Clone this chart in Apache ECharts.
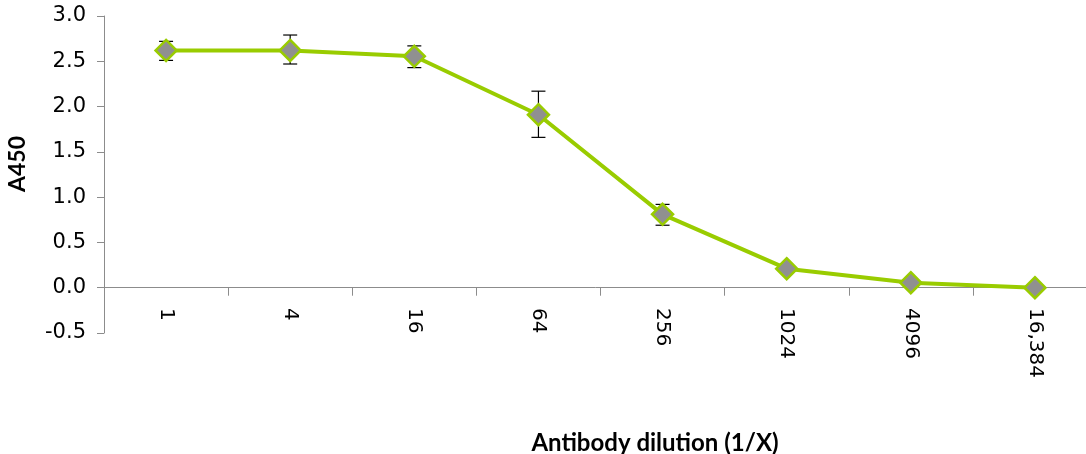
<!DOCTYPE html>
<html lang="en">
<head>
    <meta charset="UTF-8">
    <title>A450 dilution</title>
    <style>
        html, body { margin: 0; padding: 0; background: #fff; }
        #main { width: 1086px; height: 454px; }
    </style>
</head>
<body>
    <div id="main"></div>
    <script src="https://cdn.jsdelivr.net/npm/echarts@6/dist/echarts.min.js"></script>
    <script>
        // dilution (1/X)
        const dilutions = ['1', '4', '16', '64', '256', '1024', '4096', '16,384'];
        // mean A450
        const a450 = [2.62, 2.62, 2.555, 1.91, 0.81, 0.21, 0.055, 0.0];
        // error bar low / high
        const errLow = [2.51, 2.47, 2.43, 1.66, 0.69, 0.21, 0.055, 0.0];
        const errHigh = [2.72, 2.79, 2.67, 2.17, 0.92, 0.21, 0.055, 0.0];
        const yTicks = { min: -0.5, max: 3.0, step: 0.5 };

        const chart = echarts.init(document.getElementById('main'));

        const errData = dilutions.map((d, i) => [i, errLow[i], errHigh[i]]);
        const titleFont = { fontWeight: 'bold', fontFamily: 'Lato', fill: '#000' };

        const option = {
            animation: false,
            grid: { left: 104, top: 16, bottom: 121, right: -11, containLabel: false, outerBoundsMode: 'none' },
            graphic: [
                {
                    type: 'text',
                    x: 655, y: 443,
                    style: Object.assign({ text: 'Antibody dilution (1/X)', fontSize: 24, align: 'center', verticalAlign: 'middle' }, titleFont)
                },
                {
                    type: 'text',
                    x: 18, y: 164,
                    rotation: Math.PI / 2,
                    style: Object.assign({ text: 'A450', fontSize: 23, align: 'center', verticalAlign: 'middle' }, titleFont)
                }
            ],
            xAxis: {
                type: 'category',
                data: dilutions,
                boundaryGap: true,
                axisLine: { onZero: true, lineStyle: { color: '#8c8c8c', width: 1 } },
                axisTick: { show: true, length: 8, lineStyle: { color: '#8c8c8c' } },
                axisLabel: {
                    rotate: -90,
                    margin: -25,
                    color: '#000',
                    fontSize: 20,
                    fontFamily: 'DejaVu Sans'
                }
            },
            yAxis: {
                type: 'value',
                min: yTicks.min,
                max: yTicks.max,
                interval: yTicks.step,
                splitLine: { show: false },
                axisLine: { show: true, lineStyle: { color: '#8c8c8c' } },
                axisTick: { show: true, length: 7, lineStyle: { color: '#8c8c8c' } },
                axisLabel: {
                    color: '#000',
                    fontSize: 21,
                    margin: 18,
                    fontFamily: 'DejaVu Sans',
                    formatter: v => v.toFixed(1)
                }
            },
            series: [
                {
                    type: 'line',
                    data: a450,
                    symbol: 'diamond',
                    symbolSize: 21,
                    z: 3,
                    lineStyle: { color: '#99cc00', width: 4 },
                    itemStyle: { color: '#909090', borderColor: '#99cc00', borderWidth: 2.5 }
                },
                {
                    type: 'custom',
                    z: 2,
                    data: errData,
                    renderItem: function (params, api) {
                        const i = api.value(0);
                        const lo = api.coord([i, api.value(1)]);
                        const hi = api.coord([i, api.value(2)]);
                        const hw = 7;
                        const st = { stroke: '#000', lineWidth: 1.2 };
                        return {
                            type: 'group',
                            children: [
                                { type: 'line', shape: { x1: lo[0], y1: lo[1], x2: hi[0], y2: hi[1] }, style: st },
                                { type: 'line', shape: { x1: lo[0] - hw, y1: lo[1], x2: lo[0] + hw, y2: lo[1] }, style: st },
                                { type: 'line', shape: { x1: hi[0] - hw, y1: hi[1], x2: hi[0] + hw, y2: hi[1] }, style: st }
                            ]
                        };
                    }
                }
            ]
        };

        chart.setOption(option);
    </script>
</body>
</html>
